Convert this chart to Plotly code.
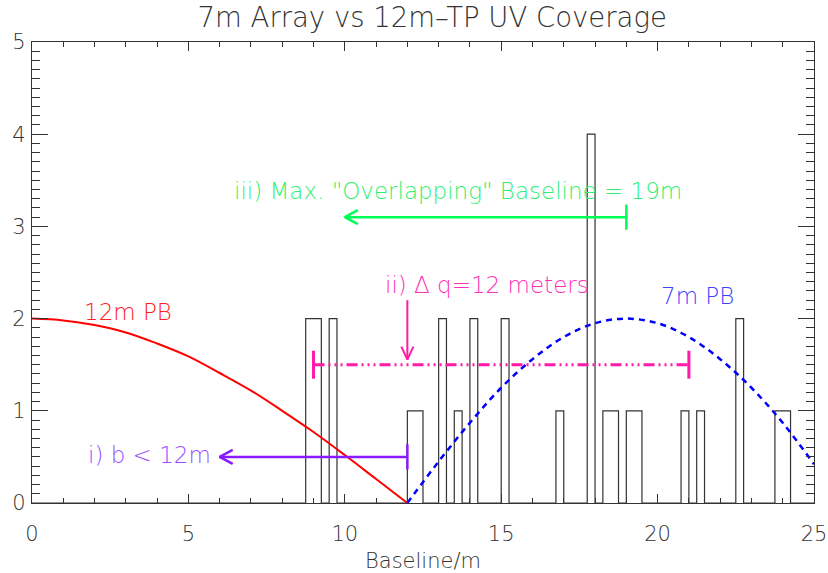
import plotly.graph_objects as go

# ---------------- data ----------------
BIN_WIDTH = 0.25
bin_left = [8.75, 9.0, 9.5, 12.0, 12.25, 13.0, 13.5, 14.0, 15.0, 16.75,
            17.75, 18.25, 18.5, 19.0, 19.25, 20.75, 21.25, 22.5, 23.75, 24.0]
bin_count = [2, 2, 2, 1, 1, 2, 1, 2, 2, 1,
             4, 1, 1, 1, 1, 1, 1, 2, 1, 1]

pb12_x = [0, 1, 2, 3, 4, 5, 6, 7, 8, 9, 10, 11, 12]
pb12_y = [2.0, 1.98, 1.93, 1.85, 1.73, 1.59, 1.41, 1.22, 1.0, 0.77, 0.52, 0.26, 0.0]

pb7_x = [12, 13, 14, 15, 16, 17, 18, 19, 20, 21, 22, 23, 24, 25]
pb7_y = [0.0, 0.45, 0.87, 1.25, 1.56, 1.80, 1.95, 2.0, 1.95, 1.80, 1.56, 1.25, 0.87, 0.42]

# annotation quantities (metres / counts)
b_limit = 12; b_tip = 6; b_level = 0.5
dq_start = 9; dq_end = 21; dq_level = 1.5; dq_mark = 12; dq_mark_top = 2.2
ovl_start = 19; ovl_tip = 10; ovl_level = 3.1

X_RANGE = [0, 25]
Y_RANGE = [0, 5]

# ---------------- build histogram outline ----------------
nb = int(round((X_RANGE[1] - X_RANGE[0]) / BIN_WIDTH))
full = [0] * nb
for l, c in zip(bin_left, bin_count):
    full[int(round((l - X_RANGE[0]) / BIN_WIDTH))] = c
edges = [X_RANGE[0] + i * BIN_WIDTH for i in range(nb + 1)]
hist_y = full + [full[-1]]

FONT = "DejaVu Sans"
AX = "#333333"
TXT = "#333333"

fig = go.Figure()
fig.add_trace(go.Scatter(x=edges, y=hist_y, mode="lines", line=dict(shape="hv", color=AX, width=1.2),
                         hoverinfo="skip", showlegend=False))
fig.add_trace(go.Scatter(x=pb12_x, y=pb12_y, mode="lines", line=dict(color="#ff0000", width=2, shape="spline"),
                         showlegend=False))
fig.add_trace(go.Scatter(x=pb7_x, y=pb7_y, mode="lines",
                         line=dict(color="#0000ff", width=2.5, shape="spline", dash="6px,5px"),
                         showlegend=False))

# scale factors for arrow heads (data units per pixel)
px_x = (X_RANGE[1] - X_RANGE[0]) / 782.0
px_y = (Y_RANGE[1] - Y_RANGE[0]) / 461.0


def hbar_arrow(x0, xtip, y, color, width):
    fig.add_trace(go.Scatter(x=[x0, xtip], y=[y, y], mode="lines",
                             line=dict(color=color, width=width),
                             showlegend=False, hoverinfo="skip"))
    fig.add_trace(go.Scatter(x=[x0], y=[y], mode="markers",
                             marker=dict(symbol="line-ns", size=18, line=dict(color=color, width=width)),
                             showlegend=False, hoverinfo="skip"))
    d = 1 if x0 > xtip else -1
    hx = xtip + d * 13 * px_x
    fig.add_trace(go.Scatter(x=[hx, xtip, hx], y=[y + 7 * px_y, y, y - 7 * px_y], mode="lines",
                             line=dict(color=color, width=width), showlegend=False, hoverinfo="skip"))


GREEN = "#00ff55"; MAG = "#ff1aa8"; PUR = "#8a1aff"
hbar_arrow(ovl_start, ovl_tip, ovl_level, GREEN, 2.5)
hbar_arrow(b_limit, b_tip, b_level, PUR, 2.5)
# delta q line with caps at both ends
fig.add_trace(go.Scatter(x=[dq_start, dq_end], y=[dq_level, dq_level], mode="lines+markers",
                         line=dict(color=MAG, width=3, dash="11px,4px,2px,4px,2px,4px,2px,4px"),
                         marker=dict(symbol="line-ns", size=20, line=dict(color=MAG, width=3)),
                         showlegend=False, hoverinfo="skip"))
# vertical down arrow at dq_mark
tip_y = dq_level + 5 * px_y
fig.add_trace(go.Scatter(x=[dq_mark, dq_mark], y=[dq_mark_top, tip_y], mode="lines",
                         line=dict(color=MAG, width=2), showlegend=False, hoverinfo="skip"))
fig.add_trace(go.Scatter(x=[dq_mark - 6 * px_x, dq_mark, dq_mark + 6 * px_x],
                         y=[tip_y + 13 * px_y, tip_y, tip_y + 13 * px_y], mode="lines",
                         line=dict(color=MAG, width=2), showlegend=False, hoverinfo="skip"))

ann = [
    dict(text="12m PB", x=3.07, y=2.07, color="#ff2020"),
    dict(text="7m PB", x=21.26, y=2.25, color="#4040ff"),
    dict(text="ii) Δ q=12 meters", x=14.53, y=2.36, color="#ff30b8"),
    dict(text='iii) Max. "Overlapping" Baseline = 19m', x=13.63, y=3.38, color="#30f070"),
    dict(text="i) b < 12m", x=3.77, y=0.52, color="#9a50ff"),
]
for a in ann:
    fig.add_annotation(x=a["x"], y=a["y"], text=a["text"], showarrow=False,
                       font=dict(family=FONT, size=23, color=a["color"], weight=200),
                       xanchor="center", yanchor="middle")

axis_common = dict(showgrid=False, zeroline=False, showline=True, linecolor=AX, linewidth=1.3,
                   mirror="allticks", ticks="inside", tickcolor=AX, automargin=False,
                   tickfont=dict(family=FONT, size=21, color=TXT, weight=200))
fig.update_xaxes(range=X_RANGE, dtick=5, tick0=0, ticklen=9, tickwidth=1.2,
                 minor=dict(dtick=1, ticklen=5, ticks="inside", tickcolor=AX, tickwidth=1),
                 title=dict(text="Baseline/m", font=dict(family=FONT, size=21, color=TXT, weight=200), standoff=8),
                 ticklabelstandoff=12,
                 **axis_common)
fig.update_yaxes(range=Y_RANGE, dtick=1, tick0=0, ticklen=16, tickwidth=1.2,
                 minor=dict(dtick=0.1, ticklen=8, ticks="inside", tickcolor=AX, tickwidth=1),
                 ticklabelstandoff=1,
                 **axis_common)

fig.update_layout(
    width=828, height=573,
    margin=dict(l=32, r=14, t=42, b=70),
    paper_bgcolor="white", plot_bgcolor="white",
    title=dict(text="7m Array vs 12m\u2013TP UV Coverage", x=0.522, xanchor="center", y=0.969, yanchor="middle",
               font=dict(family=FONT, size=27.5, color=TXT, weight=200)),
    showlegend=False,
)
# remove the default 8px page margin so the figure fills the 828x573 window exactly
fig.write_html("out.html", config={"displayModeBar": False},
               post_script="document.body.style.margin='0px';")
